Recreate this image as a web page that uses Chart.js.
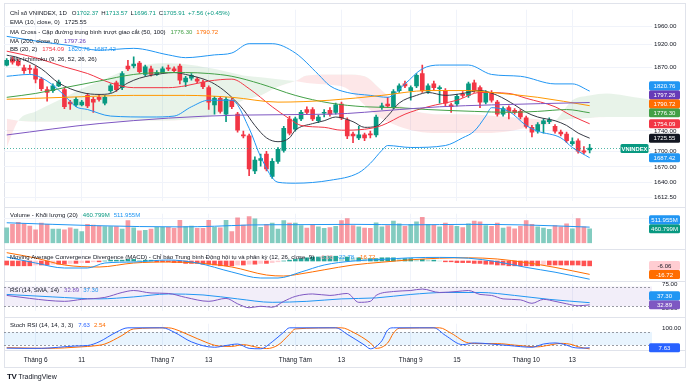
<!DOCTYPE html>
<html>
<head>
<meta charset="utf-8">
<script src="https://cdn.jsdelivr.net/npm/chart.js@4.4.1/dist/chart.umd.min.js"></script>
<style>
  html, body { margin: 0; padding: 0; background: #ffffff; }
  #wrap { position: relative; width: 690px; height: 386px; overflow: hidden; }
  #wrap canvas { position: absolute; left: 4px; }
  .frame { position: absolute; left: 4px; top: 3px; width: 682px; height: 365px; border: 1px solid #e0e3eb; box-sizing: border-box; }
  .sep { position: absolute; left: 4px; width: 682px; height: 1px; background: #e0e3eb; }
  .brand { position: absolute; left: 7px; top: 372px; font-family: "Liberation Sans", Arial, sans-serif; color: #131722; font-size: 7px; }
  .brand b { font-size: 8px; font-weight: 900; letter-spacing: -0.5px; margin-right: 2px; }
</style>
</head>
<body>
<div id="wrap">
  <div class="frame"></div>
  <div class="sep" style="top:207px"></div>
  <div class="sep" style="top:249px"></div>
  <div class="sep" style="top:281px"></div>
  <div class="sep" style="top:317px"></div>
  <div class="sep" style="top:350px"></div>
  <canvas id="mainChart" width="682" height="203" style="top:4px;width:682px;height:203px"></canvas>
  <canvas id="volChart" width="682" height="41" style="top:208px;width:682px;height:41px"></canvas>
  <canvas id="macdChart" width="682" height="31" style="top:250px;width:682px;height:31px"></canvas>
  <canvas id="rsiChart" width="682" height="39" style="top:278px;width:682px;height:39px"></canvas>
  <canvas id="stochChart" width="682" height="48" style="top:318px;width:682px;height:48px"></canvas>
  <div class="brand"><b>TV</b>TradingView</div>
</div>
<script>
Chart.defaults.font.family = '"Liberation Sans", Arial, sans-serif';
const FONT = '6.05px "Liberation Sans", Arial, sans-serif';
const TEXT = '#131722';
const UP = '#089981';
const DOWN = '#F23645';
const BLUE = '#2196F3';
const GREEN = '#43A047';
const ORANGE = '#FF6D00';
const PURPLE = '#673AB7';

// x axis: bar index, labels at the first bars of each month / mid-month
const xTickIdx = [5, 13, 27, 35, 50, 58, 70, 78, 90, 98];
const xTickLabels = ['Tháng 6', '11', 'Tháng 7', '13', 'Tháng Tám', '13', 'Tháng 9', '15', 'Tháng 10', '13'];

// daily candles
const opens = [
  1875.7, 1887.6, 1883.7, 1869.7, 1868.0, 1867.7, 1845.8, 1823.9, 1821.9, 1831.8,
  1823.9, 1798.0, 1792.3, 1792.3, 1811.9, 1803.8, 1807.9, 1796.1, 1821.9, 1837.8,
  1827.9, 1873.7, 1873.7, 1879.7, 1855.7, 1867.7, 1855.7, 1859.7, 1869.7, 1867.7,
  1873.7, 1839.8, 1847.8, 1845.8, 1839.8, 1827.9, 1792.3, 1805.8, 1773.4, 1801.9,
  1773.4, 1731.8, 1729.9, 1662.4, 1682.1, 1694.6, 1651.6, 1680.3, 1701.7, 1763.3,
  1743.2, 1764.0, 1782.9, 1782.9, 1760.2, 1775.3, 1781.0, 1777.2, 1794.2, 1762.1,
  1733.7, 1726.2, 1731.9, 1733.7, 1731.9, 1786.6, 1794.2, 1788.5, 1821.9, 1835.8,
  1821.9, 1831.8, 1857.7, 1819.9, 1835.8, 1825.9, 1821.9, 1792.3, 1794.2, 1813.9,
  1811.9, 1837.8, 1827.9, 1798.0, 1817.9, 1798.0, 1773.4, 1786.6, 1781.0, 1779.1,
  1765.9, 1747.0, 1739.4, 1754.5, 1758.3, 1748.9, 1737.5, 1733.7, 1714.9, 1720.5,
  1700.8, 1702.37];
const highs = [
  1889.6, 1893.6, 1887.6, 1875.7, 1875.7, 1873.7, 1849.8, 1829.8, 1835.8, 1843.8,
  1827.9, 1801.9, 1807.9, 1801.9, 1815.9, 1807.9, 1813.9, 1811.9, 1835.8, 1841.7,
  1861.7, 1885.6, 1893.6, 1883.6, 1875.7, 1873.7, 1863.7, 1871.7, 1875.7, 1871.7,
  1877.7, 1851.8, 1857.7, 1849.8, 1843.8, 1831.8, 1809.9, 1809.9, 1807.9, 1805.8,
  1777.2, 1739.4, 1733.6, 1689.2, 1694.6, 1699.9, 1685.7, 1707.3, 1748.9, 1769.0,
  1767.8, 1781.0, 1788.5, 1786.6, 1771.6, 1782.9, 1786.6, 1796.1, 1798.0, 1765.9,
  1737.5, 1748.9, 1735.6, 1739.4, 1771.6, 1796.1, 1807.9, 1823.9, 1835.8, 1841.7,
  1831.8, 1857.7, 1875.7, 1835.8, 1841.7, 1831.8, 1825.9, 1796.1, 1813.9, 1819.9,
  1839.8, 1843.8, 1831.8, 1821.9, 1821.9, 1801.9, 1788.5, 1790.4, 1784.7, 1782.9,
  1769.6, 1750.8, 1756.4, 1764.0, 1765.9, 1752.6, 1741.3, 1737.5, 1726.2, 1724.3,
  1709.2, 1713.57];
const lows = [
  1873.7, 1877.7, 1873.7, 1857.7, 1857.7, 1837.6, 1821.9, 1799.9, 1817.9, 1829.8,
  1784.7, 1782.9, 1788.5, 1790.4, 1786.6, 1777.2, 1799.9, 1792.3, 1817.9, 1819.9,
  1823.9, 1863.7, 1869.7, 1857.7, 1851.8, 1851.8, 1853.7, 1857.7, 1863.7, 1859.7,
  1835.8, 1829.8, 1843.8, 1837.8, 1825.9, 1782.9, 1773.4, 1775.3, 1758.3, 1784.7,
  1737.5, 1726.2, 1653.4, 1656.9, 1671.3, 1662.4, 1648.0, 1676.7, 1698.1, 1731.9,
  1739.4, 1760.2, 1773.4, 1760.2, 1756.4, 1767.8, 1769.6, 1773.4, 1762.1, 1724.3,
  1716.8, 1722.4, 1720.5, 1726.2, 1728.1, 1782.9, 1786.6, 1784.7, 1817.9, 1827.9,
  1801.9, 1827.9, 1817.9, 1815.9, 1823.9, 1796.1, 1790.4, 1777.2, 1790.4, 1807.9,
  1807.9, 1817.9, 1786.6, 1794.2, 1798.0, 1769.6, 1769.6, 1764.0, 1773.4, 1764.0,
  1745.1, 1728.1, 1735.6, 1735.6, 1754.5, 1735.6, 1730.0, 1716.8, 1711.2, 1696.4,
  1694.6, 1696.71];
const closes = [
  1885.6, 1881.7, 1875.7, 1863.7, 1866.5, 1845.8, 1825.8, 1817.9, 1831.8, 1839.7,
  1788.5, 1794.2, 1803.8, 1798.0, 1790.4, 1798.0, 1803.8, 1807.9, 1831.8, 1823.9,
  1857.7, 1867.7, 1877.7, 1861.7, 1871.7, 1855.7, 1859.7, 1867.7, 1867.7, 1863.7,
  1843.8, 1847.8, 1853.7, 1841.7, 1829.8, 1798.0, 1805.8, 1779.1, 1803.8, 1788.5,
  1741.3, 1729.9, 1666.0, 1683.0, 1685.7, 1666.0, 1680.3, 1703.5, 1745.1, 1735.6,
  1764.0, 1777.2, 1777.2, 1764.0, 1767.8, 1777.2, 1773.4, 1792.3, 1765.9, 1730.0,
  1730.0, 1731.9, 1726.2, 1731.9, 1767.8, 1790.4, 1790.4, 1819.9, 1831.8, 1831.8,
  1827.9, 1853.7, 1821.9, 1831.8, 1827.9, 1827.9, 1796.1, 1788.5, 1809.9, 1811.9,
  1835.8, 1821.9, 1798.0, 1817.9, 1801.9, 1773.4, 1784.7, 1779.1, 1777.2, 1767.8,
  1748.9, 1737.5, 1752.6, 1760.2, 1762.1, 1739.4, 1733.7, 1720.5, 1718.7, 1700.0,
  1698.35, 1705.91];

// volume, millions
const volumes = [
  487, 601, 663, 624, 549, 427, 640, 601, 450, 450,
  427, 487, 450, 373, 601, 579, 549, 526, 526, 526,
  450, 716, 487, 396, 411, 450, 503, 503, 503, 472,
  731, 526, 549, 472, 472, 731, 503, 487, 731, 373,
  807, 579, 846, 777, 503, 601, 640, 450, 716, 640,
  640, 560, 480, 600, 520, 470, 500, 540, 720, 780,
  560, 520, 480, 470, 650, 520, 560, 700, 620, 540,
  600, 680, 820, 600, 580, 520, 640, 560, 540, 500,
  620, 700, 680, 560, 540, 640, 480, 520, 460, 540,
  720, 600, 520, 480, 440, 560, 520, 620, 460, 780,
  520, 460.799];
const volMaIdx = [0, 8, 15, 23, 30, 36, 42, 50, 60, 70, 80, 90, 101];
const volMaVals = [650, 600, 560, 530, 520, 540, 580, 590, 600, 585, 600, 580, 511.955];

// overlays
const emaIdx = [0, 2, 6, 9, 13, 16, 18, 21, 23, 27, 29, 31, 35, 37, 39, 41, 43, 45, 47, 49, 50, 53, 55, 57, 60, 62, 64, 66, 68, 71, 73, 76, 79, 82, 85, 88, 90, 92, 95, 97, 99, 101];
const emaVals = [1897, 1891.6, 1867.7, 1837.8, 1817.9, 1813.9, 1815.9, 1837.8, 1847.8, 1857.7, 1859.7, 1855.7, 1841.8, 1827.9, 1807.9, 1782.8, 1750.7, 1726.2, 1718.6, 1726.2, 1741.3, 1754.5, 1760.2, 1767.7, 1758.3, 1747.0, 1748.9, 1769.6, 1796.1, 1811.9, 1817.9, 1811.9, 1815.9, 1821.9, 1811.9, 1792.3, 1777.2, 1767.7, 1760.2, 1750.8, 1735.6, 1725.55];
const ma50Idx = [0, 5, 10, 16, 22, 28, 31, 35, 39, 44, 50, 56, 62, 68, 73, 81, 87, 92, 97, 101];
const ma50Vals = [1807.9, 1815.9, 1827.9, 1841.8, 1855.7, 1859.7, 1859.7, 1857.7, 1851.8, 1835.8, 1811.9, 1796.1, 1788.5, 1786.6, 1782.8, 1779.1, 1777.2, 1779.1, 1782.8, 1776.30];
const ma100Idx = [0, 10, 22, 31, 39, 47, 56, 65, 73, 80, 84, 92, 101];
const ma100Vals = [1803.9, 1807.9, 1811.9, 1811.9, 1807.9, 1798.0, 1801.9, 1811.9, 1821.9, 1821.9, 1817.9, 1807.9, 1790.72];
const ma200Idx = [0, 16, 40, 56, 68, 75, 84, 101];
const ma200Vals = [1731.9, 1754.5, 1771.5, 1773.4, 1782.8, 1788.5, 1792.3, 1797.26];
const bbMidIdx = [0, 5, 10, 14, 18, 22, 28, 31, 35, 39, 42, 46, 49, 51, 55, 58, 62, 65, 69, 73, 78, 82, 87, 90, 95, 98, 101];
const bbMidVals = [1905.7, 1891.6, 1871.7, 1857.7, 1837.8, 1827.9, 1827.9, 1831.8, 1841.8, 1845.8, 1825.9, 1788.5, 1764.0, 1750.8, 1747.0, 1741.3, 1743.2, 1750.8, 1773.4, 1788.5, 1801.9, 1817.9, 1815.9, 1805.9, 1788.5, 1769.6, 1754.09];
const bbUpIdx = [0, 6, 11, 16, 22, 28, 31, 36, 39, 42, 46, 50, 54, 56, 59, 63, 66, 69, 72, 75, 80, 84, 89, 95, 98, 101];
const bbUpVals = [1938.2, 1926.0, 1917.9, 1907.8, 1911.8, 1897.6, 1891.6, 1897.6, 1901.7, 1922.0, 1922.0, 1901.7, 1855.7, 1831.8, 1817.9, 1811.9, 1807.9, 1835.8, 1867.7, 1875.7, 1875.7, 1855.7, 1851.8, 1835.8, 1835.8, 1820.76];
const bbLowIdx = [0, 4, 7, 10, 12, 14, 18, 25, 29, 32, 35, 39, 42, 44, 47, 50, 56, 61, 63, 65, 66, 70, 76, 79, 81, 83, 84, 87, 90, 92, 96, 98, 101];
const bbLowVals = [1851.8, 1855.7, 1841.8, 1811.9, 1788.5, 1782.9, 1769.6, 1767.7, 1769.6, 1788.5, 1801.9, 1801.9, 1745.1, 1689.2, 1640.8, 1639.1, 1644.5, 1658.8, 1676.7, 1701.7, 1711.1, 1707.3, 1711.1, 1726.2, 1739.4, 1769.6, 1786.6, 1779.1, 1750.8, 1739.4, 1726.2, 1707.3, 1687.42];
// Ichimoku cloud edges (leading spans, drawn 26 bars ahead)
const cloudIdx = [0, 2, 5, 9, 13, 17, 20, 23, 27, 31, 35, 38, 41, 44, 47, 50, 52, 56, 59, 62, 65, 68, 71, 75, 79, 83, 87, 91, 95, 98, 101, 104, 107, 110, 112];
const spanA = [1707.3, 1760.2, 1779.1, 1801.9, 1825.9, 1845.8, 1861.7, 1873.7, 1879.7, 1877.7, 1869.7, 1861.7, 1853.7, 1849.8, 1845.8, 1841.8, 1837.8, 1833.8, 1825.9, 1792.3, 1764.0, 1748.9, 1739.4, 1735.6, 1735.6, 1735.6, 1739.4, 1748.9, 1760.2, 1801.9, 1811.9, 1815.9, 1811.9, 1805.9, 1801.9];
const spanB = [1764.0, 1760.2, 1758.3, 1758.3, 1760.2, 1760.2, 1760.2, 1760.2, 1760.2, 1762.1, 1767.7, 1782.8, 1801.9, 1811.9, 1829.8, 1841.8, 1853.7, 1855.7, 1855.7, 1851.8, 1821.9, 1792.3, 1779.1, 1773.4, 1773.4, 1771.5, 1767.7, 1764.0, 1760.2, 1764.0, 1765.9, 1767.7, 1767.7, 1767.7, 1767.7];

// MACD (12, 26, 9)
const macdIdx = [0, 5, 10, 14, 17, 22, 28, 33, 39, 44, 47, 51, 55, 60, 65, 70, 75, 80, 85, 90, 95, 101];
const macdVals = [5, -2.5, -8.75, -8.75, -2.5, -1.25, 1.25, -2.5, -13.75, -21.25, -21.25, -13.75, -5, 0, 2, 4, 4.5, 3.5, -1, -8, -14, -22.78];
const signalIdx = [0, 5, 10, 16, 22, 28, 33, 39, 45, 48, 51, 55, 60, 65, 70, 75, 80, 85, 90, 95, 101];
const signalVals = [10.4, 3.75, -5, -7.5, -2.5, -1.25, -2.5, -7.5, -17.5, -18.75, -16, -11, -5, -1.5, 1.5, 3.5, 4, 2.5, -2, -8, -16.72];
const histVals = [
  -5, -6, -6, -6, -6, -5, -5, -5, -4, -4, -4, -3, -3,
  -2, -2, -1, -1, 0, 1,
  1, 1, 2, 2, 1, 1, 1,
  -1, -1, -1, -2, -2, -3, -3, -3, -4, -4,
  -5, -6, -6, -6, -5, -5,
  -4, -4, -3, -3, -2, -1, 0, 1,
  2, 3, 4, 5, 5, 6, 6, 6, 5, 5, 4, 4, 3,
  3, 3, 4, 4, 4, 3, 3, 3, 2, 2,
  1, 1, 0, -1, -1, -2, -2, -2,
  -3, -3, -4, -4, -5, -5, -6, -6, -6, -6, -6, -6,
  -5, -5, -5, -5, -5, -5, -5, -6, -6.06];

// RSI (14) and its SMA (14)
const rsiIdx = [0, 4, 7, 10, 13, 17, 20, 22, 25, 28, 31, 35, 38, 40, 42, 44, 46, 48, 50, 53, 56, 59, 61, 63, 64, 67, 70, 72, 75, 78, 80, 82, 84, 86, 89, 91, 93, 95, 97, 99, 101];
const rsiVals = [52, 46, 42, 40, 44, 48, 58, 62, 57, 56, 48, 40, 46, 35, 27, 30, 28, 40, 50, 55, 52, 56, 38, 40, 52, 60, 62, 65, 58, 60, 62, 54, 52, 45, 43, 36, 44, 40, 35, 31, 32.89];
const rsiMaIdx = [0, 8, 16, 22, 28, 34, 40, 46, 52, 58, 64, 70, 76, 82, 88, 94, 101];
const rsiMaVals = [54, 49, 45, 49, 55, 53, 45, 38, 40, 45, 47, 54, 58, 58, 52, 44, 37.30];

// Stoch RSI (14, 14, 3, 3)
const kIdx = [0, 3, 6, 9, 12, 14, 16, 19, 21, 27, 29, 32, 36, 38, 40, 42, 44, 46, 48, 49, 57, 59, 62, 63, 65, 66, 67, 74, 76, 79, 81, 84, 87, 91, 93, 95, 97, 98, 100, 101];
const kVals = [6, 5, 5, 10, 16, 18, 35, 80, 100, 100, 80, 35, 10, 18, 25, 5, 3, 35, 80, 100, 100, 70, 20, 3, 40, 90, 100, 100, 65, 22, 30, 25, 18, 10, 25, 30, 20, 10, 6, 7.63];
const dIdx = [0, 4, 7, 10, 13, 15, 17, 20, 22, 28, 30, 33, 37, 39, 41, 43, 45, 47, 49, 50, 58, 60, 63, 64, 66, 67, 68, 75, 77, 80, 82, 85, 88, 92, 94, 96, 98, 99, 101];
const dVals = [8, 6, 5, 7, 12, 16, 25, 65, 95, 100, 85, 50, 15, 14, 22, 12, 4, 20, 70, 95, 100, 80, 30, 5, 30, 75, 98, 100, 75, 30, 27, 27, 20, 12, 20, 28, 22, 12, 2.54];

const last = closes.length - 1;
const barIdx = closes.map((_, i) => i);
const isUp = closes.map((c, i) => c >= opens[i]);
const pts = (xs, ys) => xs.map((x, i) => ({ x, y: ys[i] }));
const fmt = (v) => v.toFixed(2);
const X_MIN = -0.47;
const X_MAX = 111.8;

function xAxis(showLabels) {
  return {
    type: 'linear',
    min: X_MIN,
    max: X_MAX,
    offset: false,
    grid: { color: '#f0f3fa', drawTicks: false, offset: false },
    border: { display: false },
    afterBuildTicks: (s) => { s.ticks = xTickIdx.map((v) => ({ value: v })); },
    ticks: {
      display: showLabels,
      autoSkip: false,
      maxRotation: 0,
      padding: 6,
      color: TEXT,
      font: { size: 6.5 },
      callback: (v, i) => xTickLabels[i],
    },
    afterFit: (s) => { s.height = showLabels ? 16 : 0; },
  };
}

function yAxis(extra, tickValues, label) {
  return Object.assign({
    position: 'right',
    grid: { color: '#f0f3fa', drawTicks: false },
    border: { display: false },
    afterBuildTicks: (s) => { s.ticks = tickValues.map((v) => ({ value: v })); },
    ticks: { padding: 2, color: TEXT, font: { size: 6.2 }, callback: label },
    afterFit: (s) => { s.width = 34; },
  }, extra);
}

function lineSet(data, color, order = 1) {
  return {
    type: 'line', data, borderColor: color, borderWidth: 1, pointRadius: 0,
    cubicInterpolationMode: 'monotone', fill: false, order,
  };
}

function baseOptions(xShow, y, padTop = 0) {
  return {
    responsive: false,
    animation: false,
    devicePixelRatio: 1,
    layout: { padding: { top: padTop, left: 0, right: 0, bottom: 0 } },
    plugins: { legend: { display: false }, tooltip: { enabled: false } },
    scales: { x: xAxis(xShow), y },
  };
}

function drawLegend(ctx, lines) {
  ctx.save();
  ctx.font = FONT;
  ctx.textBaseline = 'middle';
  ctx.textAlign = 'left';
  lines.forEach(({ y, parts }) => {
    let x = 6;
    parts.forEach(([text, color, gap]) => {
      ctx.fillStyle = color;
      ctx.fillText(text, x, y);
      x += ctx.measureText(text).width + gap;
    });
  });
  ctx.restore();
}

// price tags on the right axis; a tag that collides with the one below it moves up
function drawAxisBoxes(chart, items) {
  const { ctx, chartArea } = chart;
  const scale = chart.scales.y;
  const H = 9;
  const boxes = items
    .map((it) => ({ ...it, py: scale.getPixelForValue(it.value) }))
    .sort((a, b) => b.py - a.py);
  for (let i = 1; i < boxes.length; i++) {
    const limit = boxes[i - 1].py - H;
    if (boxes[i].py > limit) boxes[i].py = limit;
  }
  ctx.save();
  ctx.font = FONT;
  ctx.textAlign = 'center';
  ctx.textBaseline = 'middle';
  boxes.forEach((b) => {
    ctx.fillStyle = b.bg;
    ctx.beginPath();
    ctx.roundRect(chartArea.right - 3, b.py - H / 2, 31, H, 1.5);
    ctx.fill();
    ctx.fillStyle = b.fg || '#ffffff';
    ctx.fillText(b.text, chartArea.right + 12.5, b.py + 0.5);
  });
  ctx.restore();
}

function drawBand(chart, hi, lo, fillColor, dashed) {
  const { ctx, chartArea } = chart;
  const s = chart.scales.y;
  const yHi = s.getPixelForValue(hi);
  const yLo = s.getPixelForValue(lo);
  ctx.save();
  ctx.fillStyle = fillColor;
  ctx.fillRect(chartArea.left, yHi, chartArea.right - chartArea.left, yLo - yHi);
  ctx.strokeStyle = 'rgba(120,123,134,0.75)';
  ctx.lineWidth = 1;
  ctx.setLineDash([2, 2]);
  dashed.forEach((v) => {
    const yy = Math.round(s.getPixelForValue(v)) + 0.5;
    ctx.beginPath();
    ctx.moveTo(chartArea.left, yy);
    ctx.lineTo(chartArea.right, yy);
    ctx.stroke();
  });
  ctx.restore();
}

// ---------- price pane ----------
const candleColors = isUp.map((u) => (u ? UP : DOWN));
const changeAbs = closes[last] - closes[last - 1];
const changeText = `+${fmt(changeAbs)} (+${fmt((changeAbs / closes[last - 1]) * 100)}%)`;

new Chart(document.getElementById('mainChart'), {
  type: 'bar',
  data: {
    datasets: [
      {
        type: 'line', data: pts(cloudIdx, spanA), borderWidth: 0, pointRadius: 0,
        cubicInterpolationMode: 'monotone', order: 10,
        fill: { target: '+1', above: 'rgba(67,160,71,0.12)', below: 'rgba(242,54,69,0.12)' },
      },
      {
        type: 'line', data: pts(cloudIdx, spanB), borderWidth: 0, pointRadius: 0,
        cubicInterpolationMode: 'monotone', fill: false, order: 10,
      },
      {
        data: barIdx.map((i) => ({ x: i, y: [lows[i], highs[i]] })),
        backgroundColor: candleColors, barThickness: 1, grouped: false, order: 4,
      },
      {
        data: barIdx.map((i) => ({ x: i, y: [opens[i], closes[i]] })),
        backgroundColor: candleColors, barThickness: 4, minBarLength: 1, grouped: false, order: 3,
      },
      lineSet(pts(ma200Idx, ma200Vals), '#7E57C2'),
      lineSet(pts(ma100Idx, ma100Vals), '#FF9800'),
      lineSet(pts(ma50Idx, ma50Vals), GREEN),
      lineSet(pts(bbUpIdx, bbUpVals), BLUE),
      lineSet(pts(bbLowIdx, bbLowVals), BLUE),
      lineSet(pts(bbMidIdx, bbMidVals), DOWN),
      lineSet(pts(emaIdx, emaVals), '#363a45'),
    ],
  },
  options: baseOptions(false, yAxis(
    { type: 'logarithmic', min: 1605.6, max: 1998 },
    [1612.5, 1640, 1670, 1700, 1740, 1870, 1920, 1960],
    (v) => Number(v).toFixed(2),
  )),
  plugins: [{
    id: 'priceOverlay',
    afterDatasetsDraw(chart) {
      const { ctx, chartArea } = chart;
      const yp = Math.round(chart.scales.y.getPixelForValue(closes[last])) + 0.5;
      ctx.save();
      ctx.strokeStyle = 'rgba(8,153,129,0.7)';
      ctx.setLineDash([1, 2]);
      ctx.beginPath();
      ctx.moveTo(chartArea.left, yp);
      ctx.lineTo(chartArea.right, yp);
      ctx.stroke();
      ctx.setLineDash([]);
      ctx.fillStyle = UP;
      ctx.beginPath();
      ctx.roundRect(chartArea.right - 31.5, yp - 4.5, 28, 9, 1.5);
      ctx.fill();
      ctx.fillStyle = '#ffffff';
      ctx.font = 'bold 5.8px "Liberation Sans", Arial, sans-serif';
      ctx.textAlign = 'center';
      ctx.textBaseline = 'middle';
      ctx.fillText('VNINDEX', chartArea.right - 17.5, yp + 0.5);
      ctx.restore();
    },
    afterDraw(chart) {
      drawAxisBoxes(chart, [
        { value: bbUpVals.at(-1), bg: BLUE, text: fmt(bbUpVals.at(-1)) },
        { value: ma200Vals.at(-1), bg: PURPLE, text: fmt(ma200Vals.at(-1)) },
        { value: ma100Vals.at(-1), bg: ORANGE, text: fmt(ma100Vals.at(-1)) },
        { value: ma50Vals.at(-1), bg: GREEN, text: fmt(ma50Vals.at(-1)) },
        { value: bbMidVals.at(-1), bg: DOWN, text: fmt(bbMidVals.at(-1)) },
        { value: emaVals.at(-1), bg: TEXT, text: fmt(emaVals.at(-1)) },
        { value: bbLowVals.at(-1), bg: BLUE, text: fmt(bbLowVals.at(-1)) },
      ]);
      drawLegend(chart.ctx, [
        { y: 9, parts: [['Chỉ số VNINDEX, 1D', TEXT, 5], ['O', TEXT, 0], [fmt(opens[last]), UP, 3], ['H', TEXT, 0], [fmt(highs[last]), UP, 3], ['L', TEXT, 0], [fmt(lows[last]), UP, 3], ['C', TEXT, 0], [fmt(closes[last]), UP, 3], [changeText, UP, 0]] },
        { y: 18, parts: [['EMA (10, close, 0)', TEXT, 5], [fmt(emaVals.at(-1)), TEXT, 0]] },
        { y: 28, parts: [['MA Cross - Cặp đường trung bình trượt giao cắt (50, 100)', TEXT, 5], [fmt(ma50Vals.at(-1)), GREEN, 4], [fmt(ma100Vals.at(-1)), ORANGE, 0]] },
        { y: 37, parts: [['MA (200, close, 0)', TEXT, 5], [fmt(ma200Vals.at(-1)), PURPLE, 0]] },
        { y: 45.5, parts: [['BB (20, 2)', TEXT, 5], [fmt(bbMidVals.at(-1)), DOWN, 4], [fmt(bbUpVals.at(-1)), BLUE, 4], [fmt(bbLowVals.at(-1)), BLUE, 0]] },
        { y: 55, parts: [['Mây Ichimoku (9, 26, 52, 26, 26)', TEXT, 0]] },
      ]);
    },
  }],
});

// ---------- volume pane ----------
new Chart(document.getElementById('volChart'), {
  type: 'bar',
  data: {
    datasets: [
      {
        data: barIdx.map((i) => ({ x: i, y: volumes[i] })),
        backgroundColor: isUp.map((u) => (u ? 'rgba(8,153,129,0.5)' : 'rgba(242,54,69,0.5)')),
        barThickness: 4, grouped: false, order: 2,
      },
      lineSet(pts(volMaIdx, volMaVals), BLUE),
    ],
  },
  options: baseOptions(false, yAxis({ min: 0, max: 937 }, [800], (v) => `${v}M`)),
  plugins: [{
    id: 'volOverlay',
    afterDraw(chart) {
      drawAxisBoxes(chart, [
        { value: volMaVals.at(-1), bg: BLUE, text: `${volMaVals.at(-1).toFixed(3)}M` },
        { value: volumes[last], bg: UP, text: `${volumes[last].toFixed(3)}M` },
      ]);
      drawLegend(chart.ctx, [
        { y: 7, parts: [['Volume - Khối lượng (20)', TEXT, 5], [`${volumes[last].toFixed(3)}M`, UP, 4], [`${volMaVals.at(-1).toFixed(3)}M`, BLUE, 0]] },
      ]);
    },
  }],
});

// ---------- MACD pane ----------
const histColors = histVals.map((v, i) => {
  const prev = i ? histVals[i - 1] : v;
  if (v >= 0) return v >= prev ? '#26A69A' : '#B2DFDB';
  return v <= prev ? '#FF5252' : '#FFCDD2';
});
new Chart(document.getElementById('macdChart'), {
  type: 'bar',
  data: {
    datasets: [
      {
        data: barIdx.map((i) => ({ x: i, y: histVals[i] })),
        backgroundColor: histColors, barThickness: 4, grouped: false, order: 3,
      },
      lineSet(pts(signalIdx, signalVals), ORANGE, 2),
      lineSet(pts(macdIdx, macdVals), BLUE, 1),
    ],
  },
  options: baseOptions(false, yAxis({ min: -25, max: 13.75, grid: { display: false } }, [], () => '')),
  plugins: [{
    id: 'macdOverlay',
    afterDraw(chart) {
      drawAxisBoxes(chart, [
        { value: histVals[last], bg: '#FFCDD2', fg: TEXT, text: fmt(histVals[last]) },
        { value: signalVals.at(-1), bg: ORANGE, text: fmt(signalVals.at(-1)) },
      ]);
      drawLegend(chart.ctx, [
        { y: 7, parts: [['Moving Average Convergence Divergence (MACD) - Chỉ báo Trung bình Động hội tụ và phân kỳ (12, 26, close, 9)', TEXT, 5], [fmt(histVals[last]), '#f7a1a7', 4], [fmt(macdVals.at(-1)), BLUE, 4], [fmt(signalVals.at(-1)), ORANGE, 0]] },
      ]);
    },
  }],
});

// ---------- RSI pane ----------
new Chart(document.getElementById('rsiChart'), {
  type: 'line',
  data: {
    datasets: [
      lineSet(pts(rsiMaIdx, rsiMaVals), BLUE, 2),
      lineSet(pts(rsiIdx, rsiVals), '#7E57C2', 1),
    ],
  },
  options: baseOptions(false, yAxis({ min: 19.8, max: 75.8, grid: { display: false } }, [25, 75], (v) => fmt(Number(v))), 4),
  plugins: [{
    id: 'rsiOverlay',
    beforeDatasetsDraw(chart) { drawBand(chart, 70, 30, 'rgba(126,87,194,0.1)', [70, 30]); },
    afterDraw(chart) {
      drawAxisBoxes(chart, [
        { value: rsiMaVals.at(-1), bg: BLUE, text: fmt(rsiMaVals.at(-1)) },
        { value: rsiVals.at(-1), bg: '#7E57C2', text: fmt(rsiVals.at(-1)) },
      ]);
      drawLegend(chart.ctx, [
        { y: 12, parts: [['RSI (14, SMA, 14)', TEXT, 5], [fmt(rsiVals.at(-1)), '#7E57C2', 4], [fmt(rsiMaVals.at(-1)), BLUE, 0]] },
      ]);
    },
  }],
});

// ---------- Stoch RSI pane ----------
new Chart(document.getElementById('stochChart'), {
  type: 'line',
  data: {
    datasets: [
      lineSet(pts(dIdx, dVals), ORANGE, 2),
      lineSet(pts(kIdx, kVals), '#2962FF', 1),
    ],
  },
  options: baseOptions(true, yAxis({ min: -2.7, max: 119, grid: { display: false } }, [100], (v) => fmt(Number(v)))),
  plugins: [{
    id: 'stochOverlay',
    beforeDatasetsDraw(chart) { drawBand(chart, 80, 20, 'rgba(33,150,243,0.1)', [80, 20]); },
    afterDraw(chart) {
      drawAxisBoxes(chart, [
        { value: kVals.at(-1), bg: '#2962FF', text: fmt(kVals.at(-1)) },
      ]);
      drawLegend(chart.ctx, [
        { y: 7, parts: [['Stoch RSI (14, 14, 3, 3)', TEXT, 5], [fmt(kVals.at(-1)), '#2962FF', 4], [fmt(dVals.at(-1)), ORANGE, 0]] },
      ]);
    },
  }],
});
</script>
</body>
</html>
